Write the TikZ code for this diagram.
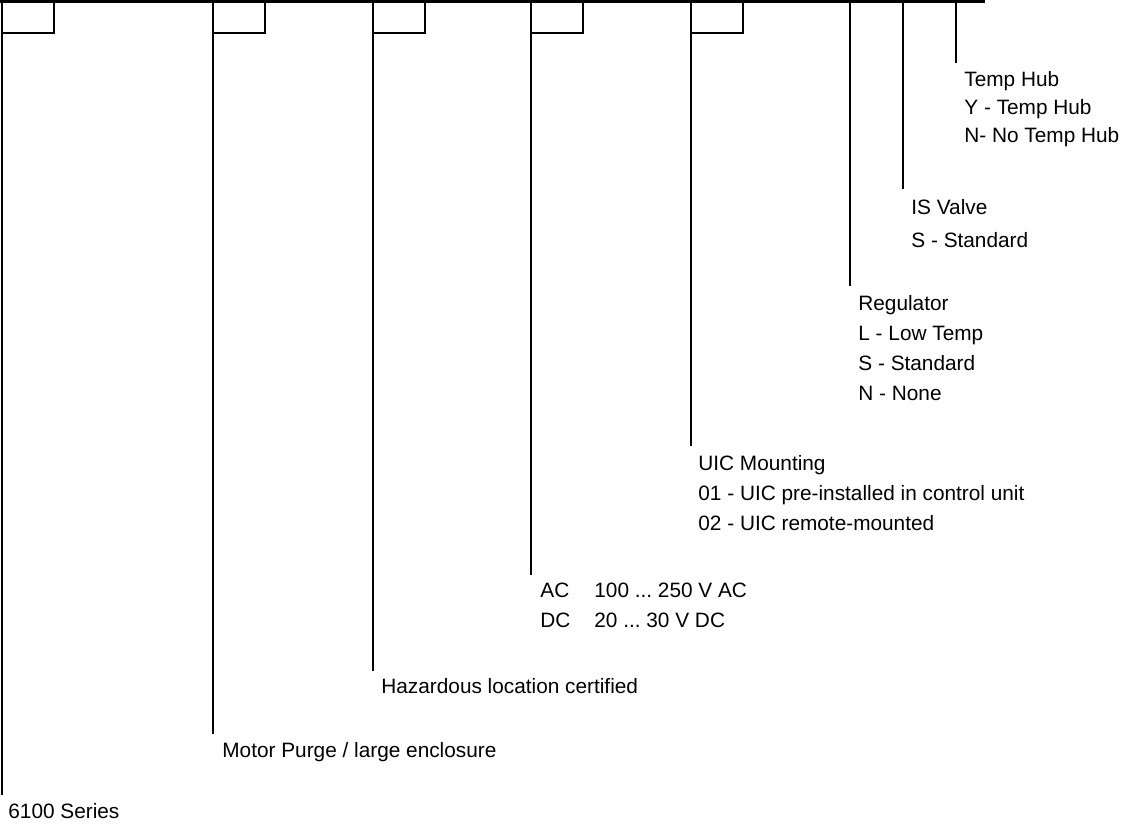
\documentclass[tikz,border=0pt]{standalone}
\usepackage{fontspec}
\setmainfont{Liberation Sans}
\frenchspacing
\tikzstyle{codetext}=[anchor=north west,inner sep=0pt,align=left,
                      font=\fontsize{10.4}{15}\selectfont]
\tikzstyle{codeline}=[draw=black,line width=1.15pt]

\begin{document}
\begin{tikzpicture}[x=0.5pt,y=-0.5pt]
    \useasboundingbox (0,0) rectangle (1128,825);
    \newcommand{\bw}{52}
    \newcommand{\bh}{33}
    % labels of the code positions
    \node (series) at (8,803) [codetext]{6100 Series};
    \node (purge) at (222,742) [codetext]{Motor Purge / large enclosure};
    \node (hazard) at (381,678) [codetext]{Hazardous location certified};
    \node (supply) at (540,583) [codetext]{\makebox[27pt][l]{AC}100 ... 250 V AC\\
                                           \makebox[27pt][l]{DC}20 ... 30 V DC};
    \node (uic) at (698,455) [codetext]{UIC Mounting\\
                                        01 - UIC pre-installed in control unit\\
                                        02 - UIC remote-mounted};
    \node (reg) at (858,295) [codetext]{Regulator\\ L - Low Temp\\ S - Standard\\ N - None};
    \node (valve) at (911,199) [codetext,font=\fontsize{10.4}{16.5}\selectfont]{IS Valve\\ S - Standard};
    \node (hub) at (964,71) [codetext,font=\fontsize{10.4}{14}\selectfont]{Temp Hub\\ Y - Temp Hub\\ N- No Temp Hub};
    % stems
    \coordinate (t1) at (2,1.5);   \coordinate (b1) at (2,795);
    \coordinate (t2) at (213,1.5); \coordinate (b2) at (213,734);
    \coordinate (t3) at (373,1.5); \coordinate (b3) at (373,671);
    \coordinate (t4) at (531,1.5); \coordinate (b4) at (531,575);
    \coordinate (t5) at (691,1.5); \coordinate (b5) at (691,446);
    \coordinate (t6) at (850,1.5); \coordinate (b6) at (850,286);
    \coordinate (t7) at (903,1.5); \coordinate (b7) at (903,189);
    \coordinate (t8) at (956,1.5); \coordinate (b8) at (956,63);
    \coordinate (bar) at (985,1.5);
    \draw[codeline] (0,1.5) -- (bar);
    \foreach \i in {1,...,8}
        \draw[codeline] (t\i) -- (b\i);
    % boxes
    \foreach \x in {2,213,373,531,691}
        \draw[codeline] (\x,\bh) -- ++(\bw,0) -- (\x+\bw,1.5);
\end{tikzpicture}
\end{document}
